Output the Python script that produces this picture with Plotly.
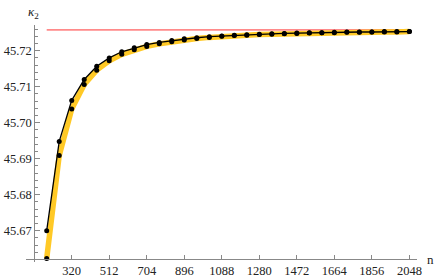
import plotly.graph_objects as go

n_values = [192, 256, 320, 384, 448, 512, 576, 640, 704, 768, 832, 896, 960, 1024,
            1088, 1152, 1216, 1280, 1344, 1408, 1472, 1536, 1600, 1664, 1728, 1792,
            1856, 1920, 1984, 2048]

kappa_black = [45.6700, 45.6948, 45.7062, 45.7120, 45.7157, 45.7180, 45.7197, 45.7208,
               45.7217, 45.7223, 45.7228, 45.7233, 45.7236, 45.7239, 45.7241, 45.7243,
               45.7244, 45.7246, 45.7247, 45.7248, 45.7249, 45.7250, 45.7250, 45.7251,
               45.7252, 45.7252, 45.7252, 45.7253, 45.7253, 45.7253]

kappa_yellow = [45.6623, 45.6909, 45.7038, 45.7106, 45.7146, 45.7172, 45.7190, 45.7203,
                45.7212, 45.7219, 45.7225, 45.7230, 45.7234, 45.7237, 45.7240, 45.7242,
                45.7243, 45.7245, 45.7246, 45.7247, 45.7248, 45.7249, 45.7250, 45.7250,
                45.7251, 45.7251, 45.7252, 45.7252, 45.7252, 45.7253]

limit_n = [192, 2048]
limit_value = [45.7258, 45.7258]

x_ticks = [320, 512, 704, 896, 1088, 1280, 1472, 1664, 1856, 2048]
y_ticks = [45.67, 45.68, 45.69, 45.70, 45.71, 45.72]
y_tick_text = ["45.67", "45.68", "45.69", "45.70", "45.71", "45.72"]

fig = go.Figure()
fig.add_trace(go.Scatter(x=limit_n, y=limit_value, mode="lines",
                         line=dict(color="#FF8A8A", width=1.8), hoverinfo="skip"))
fig.add_trace(go.Scatter(x=n_values, y=kappa_yellow, mode="lines+markers",
                         line=dict(color="#FFC926", width=5.5),
                         marker=dict(color="black", size=5)))
fig.add_trace(go.Scatter(x=n_values, y=kappa_black, mode="lines+markers",
                         line=dict(color="black", width=1.3),
                         marker=dict(color="black", size=5)))

FW, FH = 436, 278
L, T = 26, 25
R = FW - 417
B = FH - 262
W, H = FW - L - R, FH - T - B

def px_to_paper(px, py):
    return (px - L) / W, 1 - (py - T) / H

serif = "Times New Roman, Liberation Serif, serif"
font = dict(family=serif, size=12.5, color="#222")
kx, ky = px_to_paper(33, 12)
nx, ny = px_to_paper(430, 259)

fig.update_layout(
    width=FW, height=FH,
    margin=dict(l=L, r=R, t=T, b=B, autoexpand=False),
    paper_bgcolor="white", plot_bgcolor="white",
    showlegend=False,
    font=font,
    xaxis=dict(range=[86, 2087], anchor="free", position=0.0126, automargin=False,
               tickvals=x_ticks, ticktext=[str(v) for v in x_ticks],
               ticks="inside", ticklen=4, tickcolor="#888", tickwidth=1,
               showline=True, linecolor="#888", linewidth=1,
               showgrid=False, zeroline=False, tickfont=font),
    yaxis=dict(range=[45.66131, 45.72714], anchor="free", position=0.0212, automargin=False,
               tickvals=y_ticks, ticktext=y_tick_text,
               ticks="inside", ticklen=5, tickcolor="#888", tickwidth=1,
               minor=dict(dtick=0.002, tick0=45.67, ticks="inside", ticklen=2.5,
                          tickcolor="#888", tickwidth=1),
               showline=True, linecolor="#888", linewidth=1,
               showgrid=False, zeroline=False, tickfont=font),
    annotations=[
        dict(x=kx, y=ky, xref="paper", yref="paper", text="<i>κ</i><sub>2</sub>",
             showarrow=False, font=dict(family=serif, size=13, color="#222"),
             xanchor="center", yanchor="middle"),
        dict(x=nx, y=ny, xref="paper", yref="paper", text="n", showarrow=False,
             font=dict(family=serif, size=13, color="#222"),
             xanchor="center", yanchor="middle"),
    ],
)

fig.write_html("out.html", config={"displayModeBar": False, "staticPlot": True},
               post_script="document.body.style.margin='0';document.body.style.overflow='hidden';")
